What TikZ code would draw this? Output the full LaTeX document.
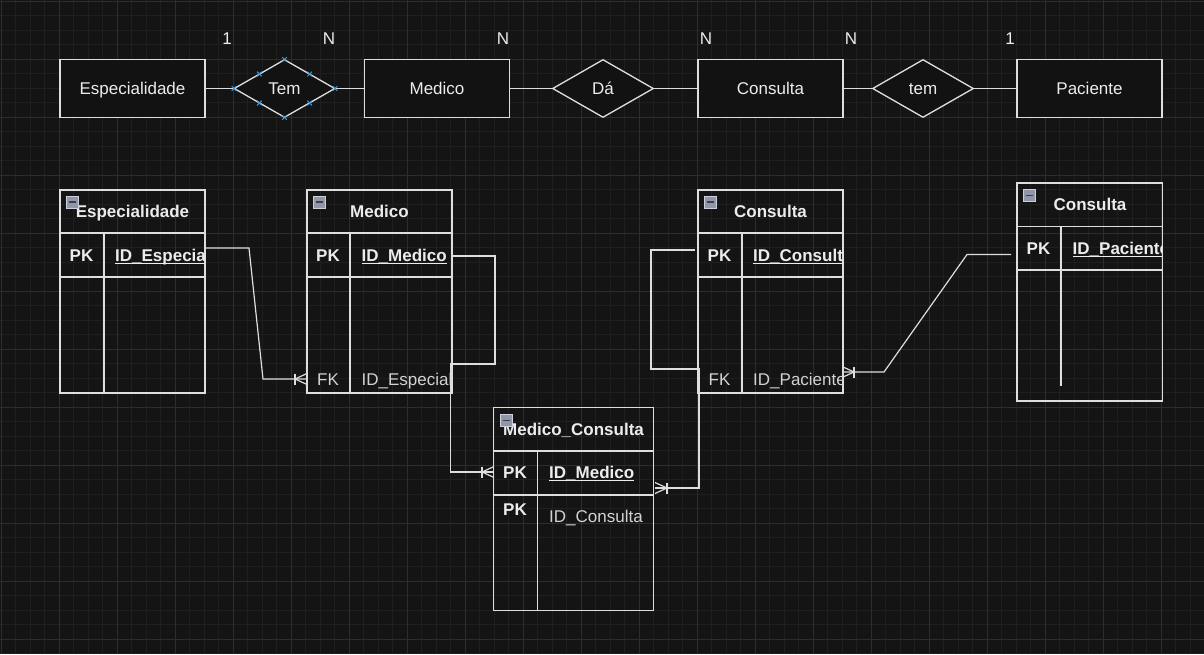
\documentclass[tikz,border=0pt]{standalone}
\usepackage{fontspec}
\setmainfont{Liberation Sans}
\usetikzlibrary{shapes.geometric}
\definecolor{bg}{RGB}{20,20,20}
\definecolor{bgfill}{RGB}{18,18,18}
\definecolor{gridminor}{RGB}{31,31,31}
\definecolor{gridmajor}{RGB}{45,45,45}
\definecolor{ln}{RGB}{222,222,222}
\definecolor{txt}{RGB}{236,236,236}
\definecolor{txtdim}{RGB}{210,210,210}
\definecolor{sel}{RGB}{60,160,230}
\definecolor{icfill}{RGB}{145,150,168}
\definecolor{icdraw}{RGB}{205,208,220}
\newcommand\myfs{\fontsize{17}{20}\selectfont}
\tikzset{
  ctext/.style={text height=12.2pt, text depth=0pt},
  ent/.style={draw=ln, fill=bgfill, line width=1.3pt, minimum width=145pt, minimum height=58pt, inner sep=0pt, font=\myfs, text=txt, ctext},
  rel/.style={diamond, draw=ln, fill=bgfill, line width=1.3pt, minimum width=101pt, minimum height=58pt, inner sep=0pt, shape aspect=1.74, font=\myfs, text=txt, ctext},
  card/.style={font=\myfs, text=txt, inner sep=0pt, ctext},
  tbl/.style={draw=ln, line width=1.3pt, inner sep=0pt},
  tline/.style={draw=ln, line width=1.3pt},
  hdr/.style={font=\myfs\bfseries, text=txt, inner sep=0pt, ctext},
  key/.style={font=\myfs\bfseries, text=txt, inner sep=0pt, ctext},
  fld/.style={font=\myfs\bfseries, text=txt, inner sep=0pt, anchor=base west},
  rfld/.style={font=\myfs, text=txtdim, inner sep=0pt, anchor=base west},
  rkey/.style={font=\myfs, text=txtdim, inner sep=0pt, ctext},
  conn/.style={draw=ln, line width=1.2pt},
  uline/.style={draw=txt, line width=1pt},
  selmark/.style={draw=sel, line width=1pt},
  crowfoot/.pic={\draw[conn] (0,-5.5) -- (-12,0) -- (0,5.5); \draw[conn] (-12,-5.5) -- (-12,5.5);},
  minusicon/.pic={\draw[draw=icdraw, fill=icfill, line width=0.8pt] (0,0) rectangle (12,12); \draw[draw=black!75, line width=1.4pt] (2.5,6) -- (9.5,6);}
}
\begin{document}
\begin{tikzpicture}[x=1pt,y=-1pt]
\useasboundingbox (0,0) rectangle (1204,654);
\fill[bg] (0,0) rectangle (1204,654);
% grid
\foreach \i in {0,...,83} {\draw[gridminor, line width=0.8pt] (1.3+14.5*\i,0) -- (1.3+14.5*\i,654);}
\foreach \i in {0,...,45} {\draw[gridminor, line width=0.8pt] (0,1.3+14.5*\i) -- (1204,1.3+14.5*\i);}
\foreach \i in {0,...,20} {\draw[gridmajor, line width=0.9pt] (1.3+58*\i,0) -- (1.3+58*\i,654);}
\foreach \i in {0,...,11} {\draw[gridmajor, line width=0.9pt] (0,1.3+58*\i) -- (1204,1.3+58*\i);}

% ===== top row (conceptual model) =====
\node[ent] (eEsp) at (132.5,88.5) {Especialidade};
\node[rel] (rTem) at (284.5,88.5) {Tem};
\node[ent] (eMed) at (437,88.5) {Medico};
\node[rel] (rDa) at (603,88.5) {Dá};
\node[ent] (eCon) at (770.5,88.5) {Consulta};
\node[rel] (rtem) at (923,88.5) {tem};
\node[ent] (ePac) at (1089.5,88.5) {Paciente};
\draw[conn] (eEsp) -- (rTem);
\draw[conn] (rTem) -- (eMed);
\draw[conn] (eMed) -- (rDa);
\draw[conn] (rDa) -- (eCon);
\draw[conn] (eCon) -- (rtem);
\draw[conn] (rtem) -- (ePac);
\node[card] (c1) at (227,38) {1};
\node[card] (c2) at (329,38) {N};
\node[card] (c3) at (503,38) {N};
\node[card] (c4) at (706,38) {N};
\node[card] (c5) at (851,38) {N};
\node[card] (c6) at (1010,38) {1};
% selection handles on Tem
\foreach \p in {(234,88.5),(335,88.5),(284.5,59.5),(284.5,117.5),(259.3,74),(309.7,74),(259.3,103),(309.7,103)} {
  \draw[selmark] \p ++(-2.3,-2.3) -- ++(4.6,4.6) \p ++(-2.3,2.3) -- ++(4.6,-4.6);
}

% ===== Table Especialidade =====
\node[tbl, minimum width=145pt, minimum height=203pt] (tEsp) at (132.5,291.5) {};
\draw[tline] (60,233) -- (205,233);
\draw[tline] (60,277) -- (205,277);
\draw[tline] (104,233) -- (104,393);
\node[hdr] (tEspH) at (132.5,211.5) {Especialidade};
\pic at (66,196) {minusicon};
\node[key] (tEspPK) at (81.5,255) {PK};
\begin{scope}
\clip (104,234) rectangle (204.4,276);
\node[fld] (tEspF) at (115,261) {ID\_Especialidade};
\draw[uline] ([yshift=-2pt]tEspF.base west) -- ([yshift=-2pt]tEspF.base east);
\end{scope}

% ===== Table Medico =====
\node[tbl, minimum width=145pt, minimum height=203pt] (tMed) at (379.5,291.5) {};
\draw[tline] (307,233) -- (452,233);
\draw[tline] (307,277) -- (452,277);
\draw[tline] (350,233) -- (350,393);
\node[hdr] (tMedH) at (379.5,211.5) {Medico};
\pic at (313,196) {minusicon};
\node[key] (tMedPK) at (328,255) {PK};
\node[fld] (tMedF) at (361.5,261) {ID\_Medico};
\draw[uline] ([yshift=-2pt]tMedF.base west) -- ([yshift=-2pt]tMedF.base east);
\node[rkey] (tMedFK) at (328,379) {FK};
\begin{scope}
\clip (350,360) rectangle (451.4,392);
\node[rfld] (tMedF2) at (361.5,385) {ID\_Especialidade};
\end{scope}

% ===== Table Consulta =====
\node[tbl, minimum width=145pt, minimum height=203pt] (tCon) at (770.5,291.5) {};
\draw[tline] (698,233) -- (843,233);
\draw[tline] (698,277) -- (843,277);
\draw[tline] (742,233) -- (742,393);
\node[hdr] (tConH) at (770.5,211.5) {Consulta};
\pic at (704,196) {minusicon};
\node[key] (tConPK) at (719.5,255) {PK};
\begin{scope}
\clip (742,234) rectangle (842.4,276);
\node[fld] (tConF) at (753,261) {ID\_Consulta};
\draw[uline] ([yshift=-2pt]tConF.base west) -- ([yshift=-2pt]tConF.base east);
\end{scope}
\node[rkey] (tConFK) at (719.5,379) {FK};
\begin{scope}
\clip (742,360) rectangle (842.4,392);
\node[rfld] (tConF2) at (753,385) {ID\_Paciente};
\end{scope}

% ===== Table Medico_Consulta =====
\node[tbl, minimum width=160pt, minimum height=203pt] (tMC) at (573.5,509) {};
\draw[tline] (493.5,451) -- (653.5,451);
\draw[tline] (493.5,495) -- (653.5,495);
\draw[tline] (537.5,451) -- (537.5,610.5);
\node[hdr] (tMCH) at (573.5,429.5) {Medico\_Consulta};
\pic at (500.5,414.5) {minusicon};
\node[key] (tMCPK1) at (515,472.5) {PK};
\node[fld] (tMCF1) at (549,478.5) {ID\_Medico};
\draw[uline] ([yshift=-2pt]tMCF1.base west) -- ([yshift=-2pt]tMCF1.base east);
\node[key] (tMCPK2) at (515,509.5) {PK};
\node[rfld] (tMCF2) at (549,522.5) {ID\_Consulta};

% ===== Table (Paciente) labelled Consulta =====
\node[tbl, minimum width=145.5pt, minimum height=218pt] (tPac) at (1089.75,292) {};
\draw[tline] (1017,226.5) -- (1162.5,226.5);
\draw[tline] (1017,270) -- (1162.5,270);
\draw[tline] (1061,226.5) -- (1061,385.5);
\node[hdr] (tPacH) at (1090,204.3) {Consulta};
\pic at (1023,189.5) {minusicon};
\node[key] (tPacPK) at (1038.5,248.3) {PK};
\begin{scope}
\clip (1061,227.5) rectangle (1161.9,269);
\node[fld] (tPacF) at (1072.5,254.5) {ID\_Paciente};
\draw[uline] ([yshift=-2pt]tPacF.base west) -- ([yshift=-2pt]tPacF.base east);
\end{scope}

% ===== connectors between tables =====
\coordinate (aEspPK) at (205,248);
\coordinate (aMedFK) at (307,379);
\coordinate (aMedPK) at (452,256);
\coordinate (aMCPK) at (494,472);
\coordinate (aConPK) at (695,250);
\coordinate (aMCC) at (655,488);
\coordinate (aPacPK) at (1011,254.5);
\coordinate (aConFK) at (842,372);

\draw[conn] (aEspPK) -- (249,248) -- (263,379) -- (aMedFK);
\pic at (aMedFK) {crowfoot};

\draw[conn] (aMedPK) -- (495,256) -- (495,364) -- (450.5,364) -- (450.5,472) -- (aMCPK);
\pic at (aMCPK) {crowfoot};

\draw[conn] (aConPK) -- (651,250) -- (651,369) -- (699,369) -- (699,488) -- (aMCC);
\pic[rotate=180] at (aMCC) {crowfoot};

\draw[conn] (aPacPK) -- (967,254.5) -- (884,372) -- (aConFK);
\pic[rotate=180] at (aConFK) {crowfoot};
\end{tikzpicture}
\end{document}
